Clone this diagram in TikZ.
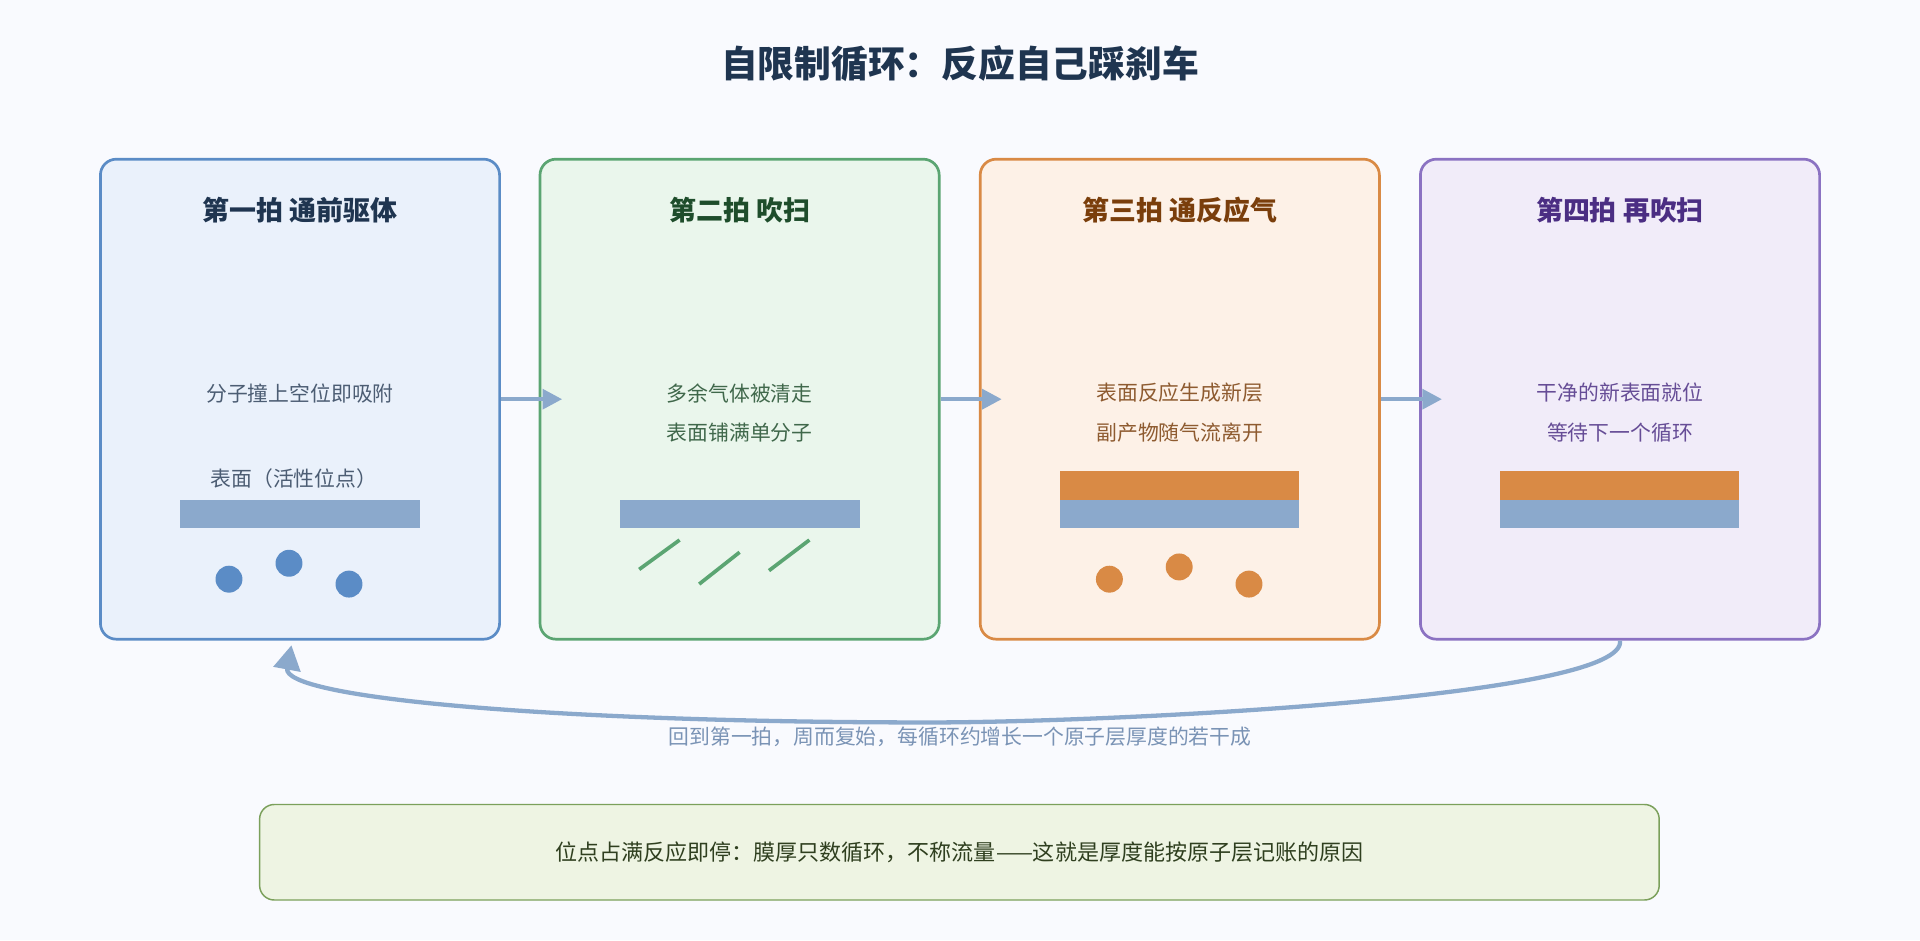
\documentclass[tikz,border=0pt]{standalone}
\usepackage{fontspec}
\setmainfont{Noto Sans CJK SC}
\usetikzlibrary{arrows.meta}
\definecolor{bg}{HTML}{F9FAFE}
\definecolor{navy}{HTML}{1F3550}
\definecolor{bB}{HTML}{5B8CC6}\definecolor{fB}{HTML}{EAF1FB}
\definecolor{bG}{HTML}{5BA572}\definecolor{fG}{HTML}{EAF6EC}
\definecolor{bO}{HTML}{D98A45}\definecolor{fO}{HTML}{FDF1E7}
\definecolor{bP}{HTML}{8B72C2}\definecolor{fP}{HTML}{F1ECF9}
\definecolor{tG}{HTML}{1E4D2B}\definecolor{tO}{HTML}{7A3E0B}\definecolor{tP}{HTML}{4B2E83}
\definecolor{bar}{HTML}{8BA9CC}
\definecolor{lbl}{HTML}{7A93B5}
\definecolor{fN}{HTML}{EEF4E3}\definecolor{bN}{HTML}{7BA05B}\definecolor{tN}{HTML}{2F3F1F}
\begin{document}
\begin{tikzpicture}[x=1pt,y=-1pt,
 box/.style={draw=#1,line width=2.2pt,rounded corners=13pt},
 ttl/.style={font=\fontsize{22}{26}\selectfont\bfseries},
 body/.style={font=\fontsize{17}{32}\selectfont,align=center},
 flow/.style={draw=bar,line width=3.5pt,-{Triangle[length=16pt,width=16pt]}}]
\fill[bg] (0,0) rectangle (1568,768);
\useasboundingbox (0,0) rectangle (1568,768);
\node[font=\fontsize{30}{36}\selectfont\bfseries,text=navy] (title) at (784,52) {自限制循环：反应自己踩刹车};
% boxes
\node[box=bB,fill=fB,minimum width=326pt,minimum height=392pt] (b1) at (245,326) {};
\node[box=bG,fill=fG,minimum width=326pt,minimum height=392pt] (b2) at (604,326) {};
\node[box=bO,fill=fO,minimum width=326pt,minimum height=392pt] (b3) at (963.5,326) {};
\node[box=bP,fill=fP,minimum width=326pt,minimum height=392pt] (b4) at (1323,326) {};
\node[ttl,text=navy] (t1) at (245,172) {第一拍 通前驱体};
\node[ttl,text=tG] (t2) at (604,172) {第二拍 吹扫};
\node[ttl,text=tO] (t3) at (963.5,172) {第三拍 通反应气};
\node[ttl,text=tP] (t4) at (1323,172) {第四拍 再吹扫};
\node[body,text=navy!80] (x1) at (245,321) {分子撞上空位即吸附};
\node[body,text=navy!80] (s1) at (240,391) {表面（活性位点）};
\node[body,text=tG!85] (x2) at (604,337) {多余气体被清走\\表面铺满单分子};
\node[body,text=tO!85] (x3) at (963.5,337) {表面反应生成新层\\副产物随气流离开};
\node[body,text=tP!85] (x4) at (1323,337) {干净的新表面就位\\等待下一个循环};
% bars
\fill[bar] (147,408) rectangle (343,431);
\fill[bar] (506,408) rectangle (702,431);
\fill[bar] (866,408) rectangle (1061,431);
\fill[bO] (866,385) rectangle (1061,408);
\fill[bar] (1225,408) rectangle (1420,431);
\fill[bO] (1225,385) rectangle (1420,408);
\foreach \p in {(187,473),(236,460),(285,477)} \fill[bB] \p circle (11);
\foreach \p in {(906,473),(963,463),(1020,477)} \fill[bO] \p circle (11);
\draw[bG,line width=3pt] (522,465)--(555,441) (571,477)--(604,451) (628,466)--(661,441);
% flow arrows
\draw[flow] (b1.east) -- ++(50,0);
\draw[flow] (b2.east) -- ++(50,0);
\draw[flow] (b3.east) -- ++(50,0);
\coordinate (ret) at (238,527);
\draw[draw=bar,line width=3.5pt,-{Triangle[length=20pt,width=22pt]}] (b4.south) .. controls (1330,570) and (900,590) .. (760,590) .. controls (450,590) and (230,570) .. (ret);
\node[font=\fontsize{17}{20}\selectfont,text=lbl] (rl) at (784,602) {回到第一拍，周而复始，每循环约增长一个原子层厚度的若干成};
\node[draw=bN,fill=fN,line width=1.2pt,rounded corners=12pt,minimum width=1143pt,minimum height=78pt,font=\fontsize{18}{22}\selectfont,text=tN] (note) at (783.5,696) {位点占满反应即停：膜厚只数循环，不称流量——这就是厚度能按原子层记账的原因};
\end{tikzpicture}
\end{document}
